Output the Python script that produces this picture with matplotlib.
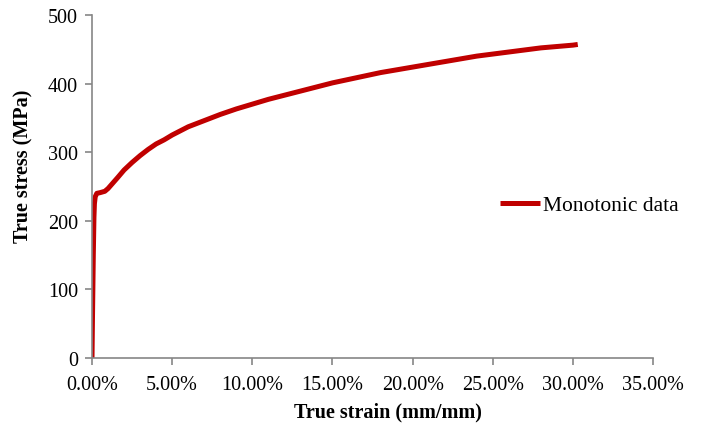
import matplotlib
matplotlib.use("Agg")
import matplotlib.pyplot as plt
from matplotlib.ticker import FuncFormatter

# True stress-strain curve from a monotonic tensile test
strain = [0.0, 0.0003, 0.0008, 0.0012, 0.0015, 0.002, 0.003, 0.005, 0.008,
          0.010, 0.013, 0.016, 0.020, 0.025, 0.030, 0.035, 0.040, 0.045,
          0.050, 0.060, 0.070, 0.080, 0.090, 0.100, 0.110, 0.120, 0.130,
          0.140, 0.150, 0.160, 0.170, 0.180, 0.190, 0.200, 0.220, 0.240,
          0.260, 0.280, 0.300, 0.303]
stress = [0, 60, 150, 205, 225, 235, 240, 241, 243,
          247, 255, 263, 274, 285, 295, 304, 312, 318,
          325, 337, 346, 355, 363, 370, 377, 383, 389,
          395, 401, 406, 411, 416, 420, 424, 432, 440,
          446, 452, 456, 457]

x_ticks = [0.0, 0.05, 0.10, 0.15, 0.20, 0.25, 0.30, 0.35]
y_ticks = [0, 100, 200, 300, 400, 500]

plt.rcParams['font.family'] = ['Liberation Serif', 'DejaVu Serif']

fig = plt.figure(figsize=(7.04, 4.31), dpi=100)
ax = fig.add_axes([0.1307, 0.167, 0.797, 0.796])

ax.plot(strain, stress, color='#C00000', lw=3.6, solid_capstyle='butt',
        label='Monotonic data')

ax.set_xlim(0, 0.35)
ax.set_ylim(0, 500)
ax.set_xticks(x_ticks)
ax.set_yticks(y_ticks)
ax.xaxis.set_major_formatter(FuncFormatter(lambda v, p: f"{v * 100:.2f}%"))

for side in ('top', 'right'):
    ax.spines[side].set_visible(False)
for side in ('left', 'bottom'):
    ax.spines[side].set_color('#868686')
    ax.spines[side].set_linewidth(1.2)
ax.tick_params(axis='both', direction='out', length=5, width=1.2,
               color='#868686', labelsize=14.5, labelcolor='black', pad=5)
ax.tick_params(axis='x', pad=7)

ax.set_xlabel('True strain (mm/mm)', fontsize=14.5, fontweight='bold')
ax.set_ylabel('True stress (MPa)', fontsize=14.5, fontweight='bold')
ax.xaxis.set_label_coords(0.527, -0.128)
ax.yaxis.set_label_coords(-0.105, 0.563)

ax.legend(loc='center left', bbox_to_anchor=(0.727, 0.445), frameon=False,
          fontsize=15.5, handlelength=1.85, handletextpad=0.15,
          borderpad=0, borderaxespad=0)

fig.savefig('out.png', dpi=100)
